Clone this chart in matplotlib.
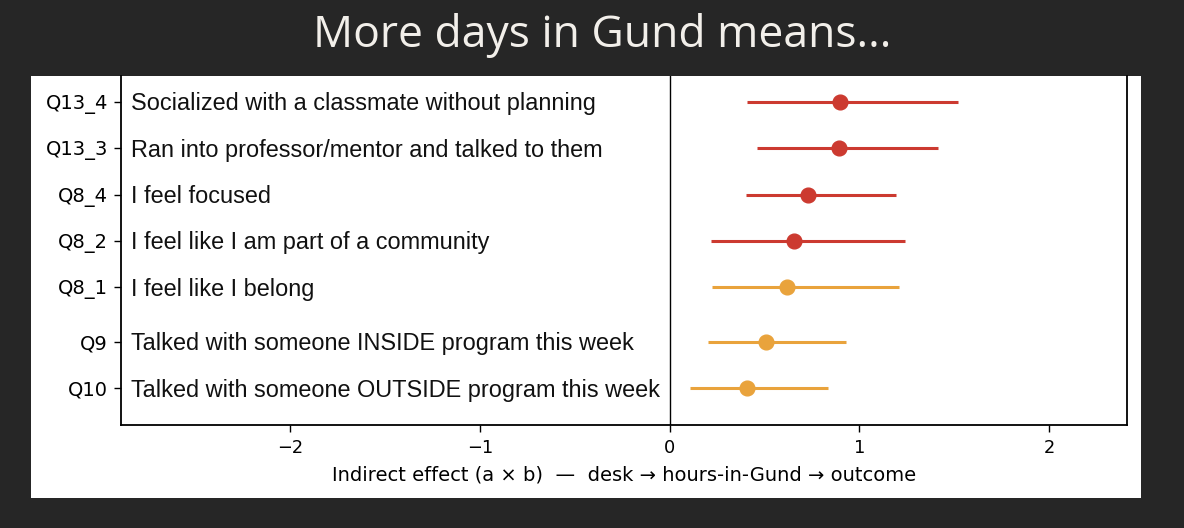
import matplotlib
matplotlib.use("Agg")
import matplotlib.pyplot as plt
import numpy as np

# ---------------- data ----------------
codes = ["Q13_4", "Q13_3", "Q8_4", "Q8_2", "Q8_1", "Q9", "Q10"]
labels = [
    "Socialized with a classmate without planning",
    "Ran into professor/mentor and talked to them",
    "I feel focused",
    "I feel like I am part of a community",
    "I feel like I belong",
    "Talked with someone INSIDE program this week",
    "Talked with someone OUTSIDE program this week",
]
estimate = [0.90, 0.895, 0.73, 0.655, 0.62, 0.51, 0.405]
ci_low = [0.405, 0.46, 0.40, 0.22, 0.225, 0.20, 0.105]
ci_high = [1.52, 1.415, 1.195, 1.24, 1.21, 0.93, 0.835]
groups = [0, 0, 0, 0, 0, 1, 1]
strength = ["strong", "strong", "strong", "strong", "weak", "weak", "weak"]

colors = {"strong": "#CC3A30", "weak": "#E9A33C"}

# ---------------- figure ----------------
W, H = 1184, 528
fig = plt.figure(figsize=(W / 100, H / 100), dpi=100)
fig.patch.set_facecolor("#262626")

# white panel
panel = fig.add_axes([31 / W, 1 - 498 / H, (1141 - 31) / W, (498 - 76) / H], zorder=-1)
panel.set_facecolor("white")
panel.set_xticks([])
panel.set_yticks([])
for sp in panel.spines.values():
    sp.set_visible(False)

fig.text(602 / W, 1 - 47 / H, "More days in Gund means...", ha="center", va="baseline",
         color="#F2EFEA", fontsize=32, family=["Open Sans", "DejaVu Sans"])

ax = fig.add_axes([120.5 / W, 1 - 425.3 / H, (1127 - 120.5) / W, (425.3 - 76) / H], zorder=1)
ax.set_facecolor("white")

gap = 0.17
ypos = np.arange(len(codes)) + gap * np.array(groups)

for y, est, lo, hi, s in zip(ypos, estimate, ci_low, ci_high, strength):
    c = colors[s]
    ax.plot([lo, hi], [y, y], color=c, lw=2.2, solid_capstyle="butt", zorder=2)
    ax.plot([est], [y], "o", color=c, ms=10.6, zorder=3)

ax.axvline(0, color="black", lw=1.0, zorder=1)

ax.set_xlim(-2.896, 2.411)
ax.set_ylim(6.974, -0.554)
ax.set_yticks(ypos)
ax.set_yticklabels(codes, fontsize=14, family="DejaVu Sans")
ax.set_xticks([-2, -1, 0, 1, 2])
ax.tick_params(axis="x", labelsize=12.8, length=5, width=1.0, pad=5)
ax.tick_params(axis="y", length=5, width=1.0, pad=4)

for y, lab in zip(ypos, labels):
    ax.annotate(lab, xy=(0, y), xycoords=("axes fraction", "data"),
                xytext=(7.5, -1.5), textcoords="offset points",
                ha="left", va="center", fontsize=16.9,
                family=["Liberation Sans", "DejaVu Sans"], color="#111111")

ax.set_xlabel("Indirect effect (a \u00d7 b)  \u2014  desk \u2192 hours-in-Gund \u2192 outcome",
              fontsize=14, labelpad=6)

ax.spines["top"].set_visible(False)
for sp in ["left", "right", "bottom"]:
    ax.spines[sp].set_linewidth(1.3)

fig.savefig("out.png", dpi=100, facecolor=fig.get_facecolor())
